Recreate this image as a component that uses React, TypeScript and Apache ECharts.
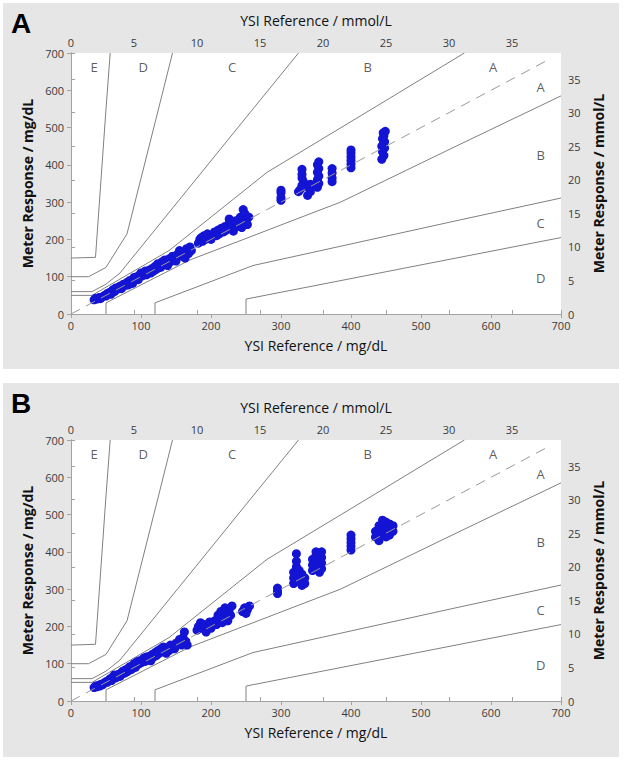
import React, { useEffect, useRef } from "react";
import * as echarts from "echarts";

const FONT = "'Open Sans', 'Noto Sans', sans-serif";
const MG_PER_MMOL = 18;
const AXIS_MAX_MG = 700;
const AXIS_INTERVAL_MG = 100;
const AXIS_INTERVAL_MMOL = 5;

const panelLetters = ["A", "B"];

// Parkes error grid boundaries (mg/dL)
const lineDEUpper = [[0, 150], [35, 152], [50, 550], [56, 700]];
const lineCDUpper = [[0, 100], [25, 100], [50, 125], [80, 215], [125, 550], [145, 700]];
const lineBCUpper = [[0, 60], [30, 60], [50, 80], [70, 110], [260, 550], [325, 700]];
const lineABUpper = [[0, 50], [30, 50], [140, 170], [280, 380], [430, 550], [562, 700]];
const lineABLower = [[50, 0], [50, 30], [170, 145], [385, 300], [550, 450], [700, 585]];
const lineBCLower = [[120, 0], [120, 30], [260, 130], [550, 250], [700, 311]];
const lineCDLower = [[250, 0], [250, 40], [550, 150], [700, 205]];
const identityLine = [[0, 0], [685, 685]];

const zoneLabelsTop = [["E", 33], ["D", 103], ["C", 230], ["B", 424], ["A", 603]];
const zoneLabelTopY = 663;
const zoneLabelsRight = [["A", 609], ["B", 426], ["C", 243], ["D", 97]];
const zoneLabelRightX = 671;

// Panel A readings [YSI reference, meter response] mg/dL
const pointsA = [
  [33, 38], [35, 42], [37, 40], [40, 44], [42, 41], [45, 46], [48, 50], [50, 48], [52, 55], [55, 58],
  [57, 53], [60, 65], [62, 60], [64, 70], [66, 66], [68, 72], [70, 75], [72, 68], [75, 80], [77, 76],
  [80, 85], [82, 78], [84, 90], [86, 88], [88, 82], [90, 98], [92, 95], [94, 100], [96, 92], [98, 105],
  [100, 110], [102, 102], [104, 108], [106, 115], [108, 105], [110, 112], [112, 118], [114, 110], [116, 122], [118, 115],
  [120, 128], [122, 120], [124, 135], [126, 130], [128, 125], [130, 140], [132, 133], [134, 145], [136, 138], [138, 130],
  [140, 148], [142, 140], [145, 155], [148, 150], [150, 142], [152, 160], [155, 170], [158, 155], [160, 165], [163, 150],
  [165, 175], [168, 162], [170, 180], [172, 170], [182, 190], [184, 200], [186, 205], [188, 195], [190, 210], [192, 200],
  [195, 215], [198, 205], [200, 200], [205, 220], [208, 210], [210, 225], [212, 215], [215, 230], [218, 220], [220, 235],
  [222, 225], [225, 240], [226, 255], [228, 230], [230, 245], [232, 222], [235, 250], [238, 235], [240, 245], [242, 260],
  [244, 232], [246, 280], [248, 270], [250, 250], [252, 240], [254, 260],
  [300, 305], [300, 312], [300, 325], [300, 332],
  [325, 328], [328, 335], [330, 345], [332, 355], [330, 365], [330, 375], [330, 388],
  [338, 318], [342, 328], [340, 338], [342, 348],
  [352, 340], [354, 350], [352, 360], [354, 370], [352, 380], [354, 390], [352, 400], [354, 408],
  [373, 355], [373, 365], [373, 378], [373, 390],
  [400, 392], [400, 402], [400, 412], [400, 422], [400, 432], [400, 440],
  [444, 415], [447, 425], [445, 435], [448, 445], [444, 450], [446, 455], [448, 462], [445, 470], [447, 478], [446, 486], [449, 490],
];

// Panel B readings [YSI reference, meter response] mg/dL
const pointsB = [
  [33, 36], [35, 40], [37, 38], [39, 42], [41, 40], [43, 45], [45, 43], [47, 48], [50, 52], [52, 50],
  [54, 56], [56, 60], [58, 55], [60, 65], [62, 70], [64, 62], [66, 68], [68, 72], [70, 66], [72, 76],
  [74, 80], [76, 74], [78, 84], [80, 78], [82, 88], [84, 92], [86, 84], [88, 95], [90, 100], [92, 90],
  [94, 105], [96, 98], [98, 108], [100, 102], [102, 110], [104, 115], [106, 106], [108, 118], [110, 112], [112, 120],
  [114, 108], [116, 125], [118, 118], [120, 130], [122, 122], [124, 135], [126, 128], [128, 140], [130, 132], [132, 145],
  [134, 136], [136, 128], [138, 142], [140, 135], [142, 150], [145, 145], [148, 140], [150, 155], [155, 165], [158, 150],
  [160, 170], [162, 185], [164, 160], [166, 150], [180, 190], [182, 200], [185, 210], [188, 195], [190, 205], [193, 185],
  [196, 200], [198, 212], [200, 195], [205, 215], [208, 205], [210, 230], [212, 220], [214, 240], [216, 210], [218, 225],
  [220, 250], [222, 235], [224, 215], [226, 245], [228, 230], [230, 255], [245, 240], [248, 250], [250, 235], [252, 245], [255, 255],
  [295, 288], [295, 295], [295, 303],
  [318, 315], [318, 330], [318, 345], [322, 340], [322, 360], [322, 375], [322, 395], [326, 320], [326, 335], [326, 350],
  [330, 310], [330, 325], [330, 340], [334, 315], [334, 330],
  [345, 350], [345, 365], [345, 380], [350, 360], [350, 375], [350, 390], [350, 400], [355, 345], [355, 360], [355, 380],
  [355, 395], [358, 355], [358, 370], [358, 385], [358, 400],
  [400, 405], [400, 415], [400, 425], [400, 435], [400, 445],
  [435, 440], [435, 455], [440, 430], [440, 445], [440, 460], [440, 470], [445, 450], [445, 465], [445, 475], [445, 485],
  [450, 440], [450, 455], [450, 470], [450, 480], [455, 445], [455, 460], [455, 475], [460, 455], [460, 470],
];

const panels = [pointsA, pointsB];

const GRID_LEFT = 71;
const GRID_WIDTH = 490;
const GRID_HEIGHT = 261;
const GRID_TOPS = [53, 440];
const PANEL_BG = [
  { y: 3, h: 366 },
  { y: 383, h: 374 },
];

const AXIS_COLOR = "#a3a3a3";
const LINE_COLOR = "#808080";
const POINT_COLOR = "#1414d4";

function baseAxis() {
  return {
    type: "value",
    axisLine: { show: true, lineStyle: { color: AXIS_COLOR, width: 1 } },
    axisTick: { show: true, length: 4, lineStyle: { color: AXIS_COLOR } },
    splitLine: { show: false },
    axisLabel: { color: "#3a3a3a", fontSize: 11, fontFamily: FONT },
    nameLocation: "middle",
  };
}

const mmolFormatter = (v: number) =>
  Math.abs(v / AXIS_INTERVAL_MMOL - Math.round(v / AXIS_INTERVAL_MMOL)) < 1e-6 ? String(Math.round(v)) : "";

export default function App() {
  const ref = useRef<HTMLDivElement>(null);
  useEffect(() => {
    if (!ref.current) return;
    const chart = echarts.init(ref.current, null, { renderer: "svg" });
    const grids: any[] = [];
    const xAxes: any[] = [];
    const yAxes: any[] = [];
    const series: any[] = [];
    const graphics: any[] = [];
    const mmolMax = AXIS_MAX_MG / MG_PER_MMOL;

    panels.forEach((pts, i) => {
      grids.push({
        left: GRID_LEFT,
        top: GRID_TOPS[i],
        width: GRID_WIDTH,
        height: GRID_HEIGHT,
        show: true,
        backgroundColor: "#ffffff",
        borderWidth: 0,
        containLabel: false,
        outerBoundsMode: "none",
      });
      xAxes.push({
        ...baseAxis(),
        gridIndex: i,
        position: "bottom",
        min: 0,
        max: AXIS_MAX_MG,
        interval: AXIS_INTERVAL_MG,
        axisLabel: { ...baseAxis().axisLabel, margin: 6 },
        name: "YSI Reference / mg/dL",
        nameGap: 24,
        nameTextStyle: { color: "#111", fontSize: 14, fontFamily: FONT },
      });
      xAxes.push({
        ...baseAxis(),
        gridIndex: i,
        position: "top",
        min: 0,
        max: mmolMax,
        interval: AXIS_INTERVAL_MMOL,
        axisLabel: { ...baseAxis().axisLabel, margin: 5, formatter: mmolFormatter },
        name: "YSI Reference / mmol/L",
        nameGap: 26,
        nameTextStyle: { color: "#111", fontSize: 14, fontFamily: FONT },
      });
      yAxes.push({
        ...baseAxis(),
        gridIndex: i,
        position: "left",
        min: 0,
        max: AXIS_MAX_MG,
        interval: AXIS_INTERVAL_MG,
        axisLabel: { ...baseAxis().axisLabel, margin: 7 },
        name: "Meter Response / mg/dL",
        nameGap: 31,
        nameTextStyle: { color: "#111", fontSize: 14, fontWeight: "bold", fontFamily: FONT },
      });
      yAxes.push({
        ...baseAxis(),
        gridIndex: i,
        position: "right",
        min: 0,
        max: mmolMax,
        interval: AXIS_INTERVAL_MMOL,
        axisLabel: { ...baseAxis().axisLabel, margin: 7, formatter: mmolFormatter },
        name: "Meter Response / mmol/L",
        nameGap: 21,
        nameTextStyle: { color: "#111", fontSize: 14, fontWeight: "bold", fontFamily: FONT },
      });
      const xi = i * 2;
      const yi = i * 2;
      [lineDEUpper, lineCDUpper, lineBCUpper, lineABUpper, lineABLower, lineBCLower, lineCDLower].forEach((d) => {
        series.push({
          type: "line",
          xAxisIndex: xi,
          yAxisIndex: yi,
          data: d,
          symbol: "none",
          silent: true,
          clip: true,
          z: 2,
          lineStyle: { color: LINE_COLOR, width: 1 },
        });
      });
      series.push({
        type: "scatter",
        xAxisIndex: xi,
        yAxisIndex: yi,
        data: pts,
        symbol: "circle",
        symbolSize: 9,
        silent: true,
        z: 3,
        itemStyle: { color: POINT_COLOR, opacity: 1 },
      });
      series.push({
        type: "line",
        xAxisIndex: xi,
        yAxisIndex: yi,
        data: identityLine,
        symbol: "none",
        silent: true,
        z: 4,
        lineStyle: { color: "#999999", width: 1, type: [10, 7] },
      });
      const labelData = [
        ...zoneLabelsTop.map(([n, x]) => ({ name: n, value: [x, zoneLabelTopY] })),
        ...zoneLabelsRight.map(([n, y]) => ({ name: n, value: [zoneLabelRightX, y] })),
      ];
      series.push({
        type: "scatter",
        xAxisIndex: xi,
        yAxisIndex: yi,
        data: labelData,
        symbolSize: 1,
        silent: true,
        z: 5,
        itemStyle: { color: "rgba(0,0,0,0)" },
        label: {
          show: true,
          position: "inside",
          formatter: (p: any) => p.name,
          color: "#333",
          fontSize: 13,
          fontFamily: FONT,
        },
      });
      graphics.push({
        type: "rect",
        z: -10,
        silent: true,
        shape: { x: 3, y: PANEL_BG[i].y, width: 616, height: PANEL_BG[i].h },
        style: { fill: "#e6e6e6" },
      });
      graphics.push({
        type: "text",
        z: 10,
        left: 11,
        top: PANEL_BG[i].y + 6,
        silent: true,
        style: {
          text: panelLetters[i],
          fill: "#000",
          font: "bold 28px 'Liberation Sans', Arial, sans-serif",
        },
      });
    });

    chart.setOption({
      animation: false,
      backgroundColor: "#ffffff",
      textStyle: { fontFamily: FONT },
      grid: grids,
      xAxis: xAxes,
      yAxis: yAxes,
      series,
      graphic: graphics,
    });
    return () => chart.dispose();
  }, []);
  return (
    <div
      ref={ref}
      style={{ position: "absolute", left: 0, top: 0, width: 624, height: 761 }}
    />
  );
}
